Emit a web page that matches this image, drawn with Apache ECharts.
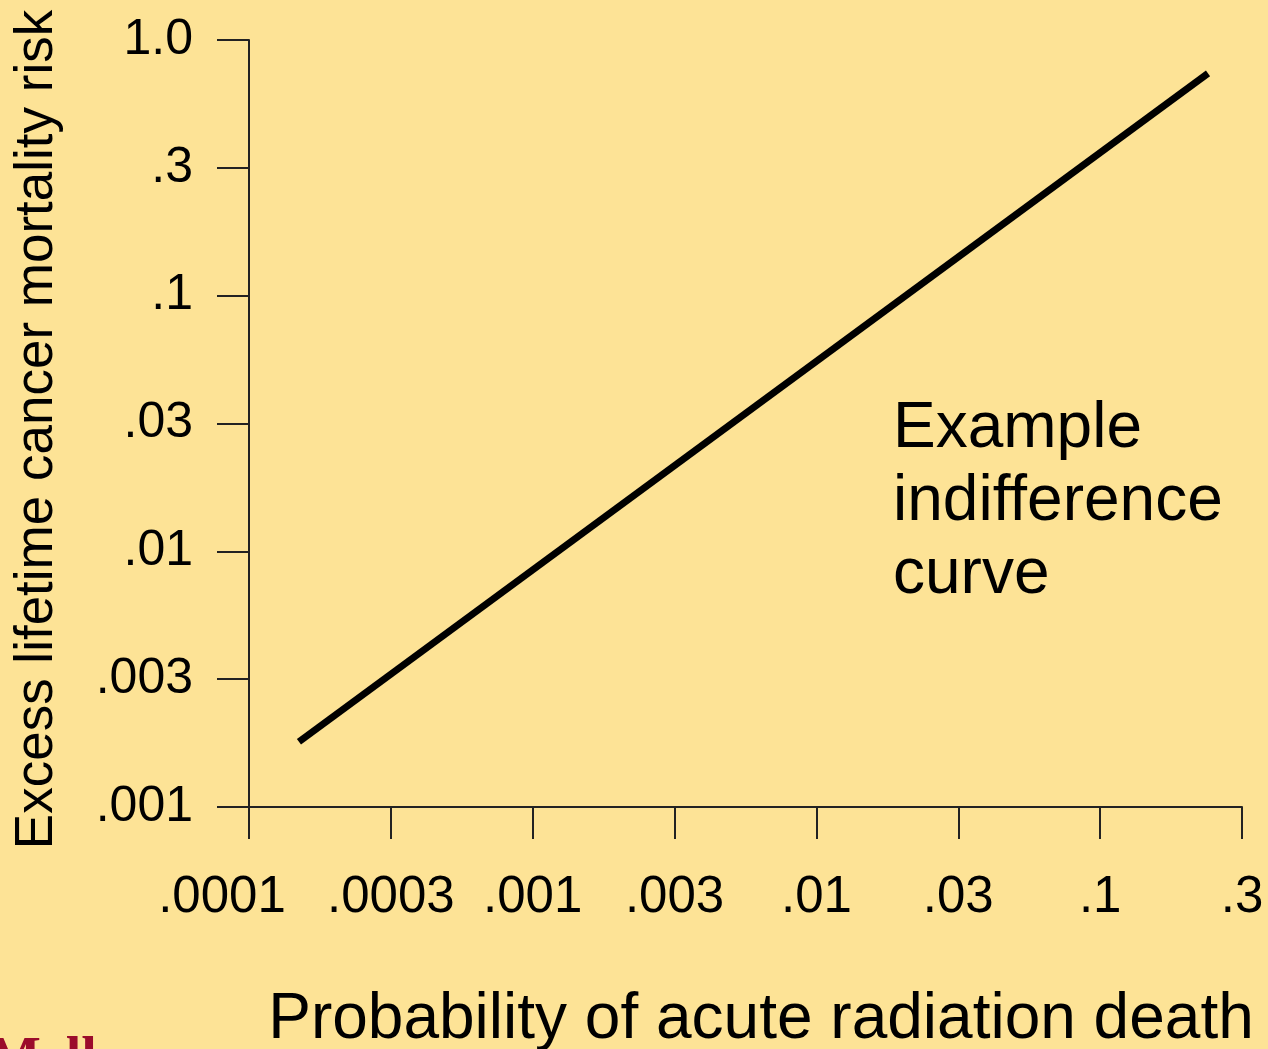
<!DOCTYPE html>
<html>
<head>
<meta charset="utf-8">
<script src="https://cdn.jsdelivr.net/npm/echarts@6/dist/echarts.min.js"></script>
<style>
html,body{margin:0;padding:0;background:#FDE396;}
#chart{width:1268px;height:1049px;}
</style>
</head>
<body>
<div id="chart"></div>
<script>
// Data
const xTickValues = [0.0001, 0.0003, 0.001, 0.003, 0.01, 0.03, 0.1, 0.3];
const xTickLabels = ['.0001', '.0003', '.001', '.003', '.01', '.03', '.1', '.3'];
const yTickValues = [0.001, 0.003, 0.01, 0.03, 0.1, 0.3, 1.0];
const yTickLabels = ['.001', '.003', '.01', '.03', '.1', '.3', '1.0'];
const curveX = [0.00015, 0.24];
const curveY = [0.0018, 0.74];
const xTitle = 'Probability of acute radiation death';
const yTitle = 'Excess lifetime cancer mortality risk';
const annotation = 'Example\nindifference\ncurve';

const FONT = '"Liberation Sans", Arial, Helvetica, sans-serif';
function nearestIndex(values, v) {
  let best = 0, bd = Infinity;
  for (let i = 0; i < values.length; i++) {
    const d = Math.abs(Math.log(v) - Math.log(values[i]));
    if (d < bd) { bd = d; best = i; }
  }
  return bd < 0.2 ? best : -1;
}

const chart = echarts.init(document.getElementById('chart'));
const HALF = Math.sqrt(10);
chart.setOption({
  backgroundColor: '#FDE396',
  animation: false,
  grid: { left: 249, right: 26, top: 40, bottom: 242, containLabel: false, outerBoundsMode: 'none' },
  xAxis: {
    type: 'log',
    logBase: HALF,
    min: 0.0001,
    max: Math.pow(10, -0.5),
    interval: 1,
    name: xTitle,
    nameLocation: 'middle',
    nameGap: 181,
    nameTextStyle: { fontFamily: FONT, fontSize: 64, color: '#000', padding: [0, 0, 0, 31] },
    axisLine: { show: true, onZero: false, lineStyle: { color: '#222', width: 2 } },
    axisTick: { show: true, inside: false, length: 32, lineStyle: { color: '#222', width: 2 } },
    minorTick: { show: false },
    splitLine: { show: false },
    axisLabel: {
      fontFamily: FONT, fontSize: 51, color: '#000', margin: 65,
      showMinLabel: true, showMaxLabel: true,
      formatter: function (v) {
        const i = nearestIndex(xTickValues, v);
        if (i < 0) return '';
        return i === 0 ? '{first|' + xTickLabels[i] + '}' : xTickLabels[i];
      },
      rich: {
        first: { fontFamily: FONT, fontSize: 51, color: '#000', padding: [0, 54, 0, 0] }
      }
    }
  },
  yAxis: {
    type: 'log',
    logBase: HALF,
    min: 0.001,
    max: 1,
    interval: 1,
    name: yTitle,
    nameLocation: 'middle',
    nameGap: 185,
    nameTextStyle: { fontFamily: FONT, fontSize: 53, color: '#000', padding: [0, 12, 0, 0] },
    axisLine: { show: true, onZero: false, lineStyle: { color: '#222', width: 2 } },
    axisTick: { show: true, inside: false, length: 32, lineStyle: { color: '#222', width: 2 } },
    minorTick: { show: false },
    splitLine: { show: false },
    axisLabel: {
      fontFamily: FONT, fontSize: 50, color: '#000', margin: 56,
      showMinLabel: true, showMaxLabel: true,
      formatter: function (v) {
        const i = nearestIndex(yTickValues, v);
        return i < 0 ? '' : yTickLabels[i];
      }
    }
  },
  series: [{
    type: 'line',
    data: curveX.map((x, i) => [x, curveY[i]]),
    symbol: 'none',
    lineStyle: { color: '#000', width: 7, cap: 'butt' },
    silent: true
  }],
  graphic: [
    {
      type: 'text', left: 893, top: 393,
      style: { text: annotation, font: '64px ' + FONT, fill: '#000', lineHeight: 73 }
    },
    {
      type: 'text', left: -12, top: 1034,
      style: { text: 'Mellon', font: 'bold 56px "Liberation Serif", "Times New Roman", serif', fill: '#9B0C2B' }
    }
  ]
});
</script>
</body>
</html>
